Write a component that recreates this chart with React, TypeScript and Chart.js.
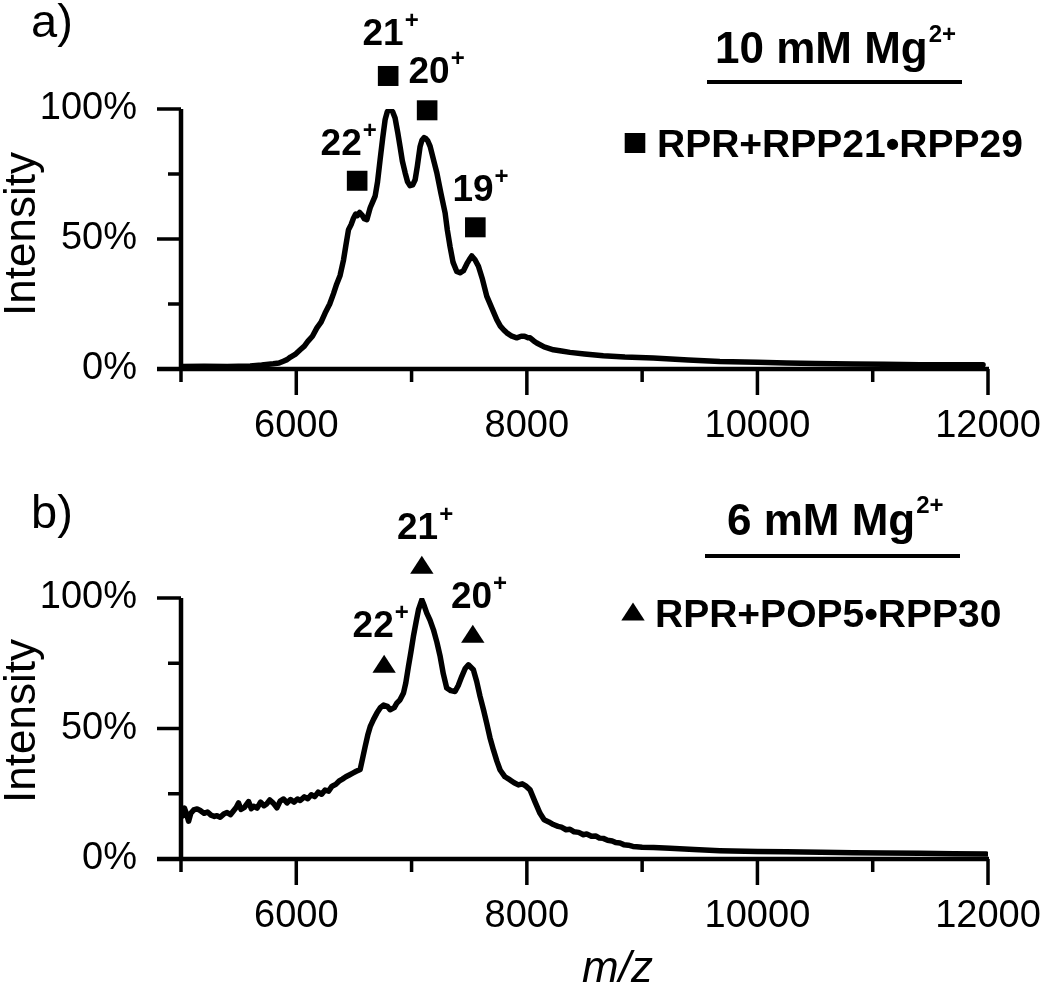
import React, { useEffect, useRef } from 'react';
import { Chart, registerables } from 'chart.js';

Chart.register(...registerables);

const FONT = '"Liberation Sans", Arial, Helvetica, sans-serif';

// ---------- axis ranges / ticks ----------
const X_MIN = 5000;
const X_MAX = 12000;
const X_STEP = 1000;
const X_LABELED = [6000, 8000, 10000, 12000];
const Y_MIN = 0;
const Y_MAX = 100;
const Y_STEP = 25;
const Y_LABELED = [0, 50, 100];

// ---------- panel a: 10 mM Mg2+ ----------
const mzA = [
  5000, 5200, 5400, 5600, 5700, 5800, 5850, 5888, 5920, 5950, 5990, 6034, 6070, 6100, 6140, 6179,
  6215, 6250, 6290, 6323, 6350, 6380, 6410, 6430, 6453, 6475, 6496, 6515, 6530, 6550, 6570, 6590,
  6612, 6641, 6660, 6684, 6705, 6727, 6750, 6771, 6790, 6808, 6820, 6835, 6857, 6880, 6900, 6920,
  6944, 6965, 6987, 7010, 7031, 7050, 7074, 7090, 7109, 7125, 7140, 7161, 7190, 7219, 7255, 7291,
  7310, 7334, 7360, 7392, 7420, 7450, 7480, 7500, 7522, 7550, 7580, 7615, 7652, 7700, 7739, 7770,
  7800, 7826, 7870, 7912, 7950, 7980, 8010, 8028, 8060, 8086, 8150, 8230, 8300, 8374, 8500, 8663,
  8850, 9096, 9400, 9674, 10000, 10252, 10500, 10830, 11100, 11408, 11700, 11957,
];
const intA = [
  1.0, 1.1, 1.0, 1.2, 1.5, 2.0, 2.3, 3.0, 3.6, 4.6, 5.6, 7.4, 8.8, 10.6, 12.6, 15.8,
  18.0, 21.5, 25.0, 29.0, 32.6, 36.0, 42.0, 47.5, 53.6, 55.5, 58.0, 59.6, 59.0, 60.2, 59.2, 57.8,
  57.4, 62.0, 64.0, 66.5, 72.0, 80.5, 89.0, 96.0, 99.0, 100.0, 99.5, 99.0, 96.5, 91.0, 85.6, 80.0,
  75.5, 72.0, 70.5, 70.8, 72.8, 78.0, 85.6, 88.0, 89.0, 88.6, 87.8, 85.6, 80.5, 75.5, 67.5, 60.0,
  53.5, 47.0, 41.0, 37.5, 37.0, 37.8, 40.5, 42.0, 43.5, 42.0, 39.5, 34.5, 28.0, 23.0, 19.0, 16.5,
  15.0, 13.9, 12.6, 12.0, 12.6, 12.6, 12.0, 12.0, 10.8, 10.0, 8.5, 7.4, 6.9, 6.4, 5.8, 5.1,
  4.6, 4.2, 3.5, 2.9, 2.6, 2.3, 2.1, 1.9, 1.8, 1.6, 1.6, 1.6,
];
const peakNamesA = ['22', '21', '20', '19'];
const markerMzA = [6528, 6797, 7135, 7553];
const markerIntA = [72.4, 112.7, 99.5, 54.5];
const labelMzA = [6389, 6753, 7152, 7533];
const labelIntA = [82.4, 124.7, 110, 64.5];

// ---------- panel b: 6 mM Mg2+ ----------
const mzB = [
  5000, 5015, 5030, 5050, 5066, 5085, 5110, 5140, 5167, 5200, 5230, 5260, 5290, 5312, 5340, 5370,
  5400, 5430, 5456, 5480, 5499, 5520, 5550, 5586, 5610, 5630, 5660, 5690, 5720, 5745, 5770, 5800,
  5832, 5860, 5890, 5920, 5950, 5980, 6010, 6034, 6070, 6100, 6130, 6160, 6190, 6220, 6250, 6280,
  6310, 6340, 6370, 6400, 6430, 6460, 6490, 6520, 6554, 6575, 6597, 6620, 6641, 6670, 6699, 6730,
  6757, 6790, 6814, 6850, 6872, 6900, 6930, 6950, 6973, 6995, 7016, 7040, 7060, 7089, 7110, 7132,
  7160, 7190, 7220, 7248, 7275, 7305, 7340, 7377, 7405, 7435, 7465, 7493, 7536, 7565, 7594, 7625,
  7652, 7680, 7710, 7740, 7768, 7810, 7854, 7890, 7926, 7960, 7990, 8028, 8070, 8114, 8150, 8190,
  8230, 8270, 8300, 8340, 8374, 8410, 8450, 8490, 8519, 8560, 8600, 8630, 8663, 8700, 8740, 8770,
  8808, 8840, 8880, 8920, 8952, 9000, 9100, 9241, 9450, 9674, 10000, 10252, 10550, 10830, 11100, 11408,
  11700, 11986,
];
const intB = [
  18.5, 16.5, 19.5, 17.0, 14.5, 17.5, 18.8, 19.2, 18.6, 17.5, 18.0, 16.8, 16.3, 16.6, 16.0, 17.2,
  17.8, 17.0, 18.5, 19.8, 21.5, 19.0, 19.8, 22.0, 19.3, 20.2, 19.5, 21.8, 20.4, 21.2, 22.6, 21.4,
  19.6, 22.2, 23.0, 21.5, 22.8, 21.8, 23.0, 22.4, 23.8, 23.1, 24.6, 23.9, 25.6, 24.8, 26.4, 26.0,
  27.9, 28.5, 29.8, 30.6, 31.5, 32.2, 32.9, 33.6, 34.3, 38.5, 43.0, 47.5, 50.7, 53.5, 55.9, 58.0,
  59.0, 58.5, 57.2, 58.0, 59.7, 61.0, 63.6, 67.5, 73.8, 79.5, 85.3, 91.0, 95.5, 99.3, 97.0, 94.2,
  91.5, 87.8, 83.0, 77.6, 71.0, 65.5, 64.5, 64.2, 66.5, 69.9, 73.0, 74.4, 72.5, 68.0, 62.3, 57.0,
  52.0, 46.5, 41.8, 37.5, 34.1, 31.5, 30.3, 29.2, 28.4, 28.8, 28.0, 26.5, 22.0, 17.5, 15.0, 14.2,
  13.2, 12.5, 12.2, 11.2, 11.4, 10.4, 10.2, 9.3, 9.6, 8.7, 8.8, 8.0, 7.9, 7.2, 6.9, 6.3,
  6.1, 5.5, 5.3, 4.8, 4.7, 4.5, 4.4, 4.1, 3.6, 3.2, 2.9, 2.8, 2.6, 2.4, 2.3, 2.2,
  2.0, 1.9,
];
const peakNamesB = ['22', '21', '20'];
const markerMzB = [6762, 7089, 7531];
const markerIntB = [73.5, 111.4, 85];
const labelMzB = [6667, 7052, 7520];
const labelIntB = [85.2, 122.7, 96.3];

type PanelCfg = {
  top: number;
  height: number;
  padTop: number;
  padBottom: number;
  tag: string;
  tagBaseline: number;
  title: string;
  titleX: number;
  titleBaseline: number;
  supBaseline: number;
  underlineY: number;
  underlineX0: number;
  underlineX1: number;
  legend: string;
  legendX: number;
  legendBaseline: number;
  markerStyle: 'rect' | 'triangle';
  mz: number[];
  inten: number[];
  names: string[];
  markerMz: number[];
  markerInt: number[];
  labelMz: number[];
  labelInt: number[];
  yTitleCenter: number;
  showXTitle: boolean;
};

const panels: PanelCfg[] = [
  {
    top: 0, height: 480, padTop: 109, padBottom: 31,
    tag: 'a)', tagBaseline: 37,
    title: '10 mM Mg', titleX: 715, titleBaseline: 63, supBaseline: 42,
    underlineY: 82, underlineX0: 707, underlineX1: 962,
    legend: 'RPR+RPP21\u2022RPP29', legendX: 657, legendBaseline: 157,
    markerStyle: 'rect',
    mz: mzA, inten: intA, names: peakNamesA,
    markerMz: markerMzA, markerInt: markerIntA, labelMz: labelMzA, labelInt: labelIntA,
    yTitleCenter: 234, showXTitle: false,
  },
  {
    top: 480, height: 505, padTop: 118, padBottom: 46,
    tag: 'b)', tagBaseline: 48,
    title: '6 mM Mg', titleX: 727, titleBaseline: 55, supBaseline: 33,
    underlineY: 76, underlineX0: 705, underlineX1: 960,
    legend: 'RPR+POP5\u2022RPP30', legendX: 655, legendBaseline: 147,
    markerStyle: 'triangle',
    mz: mzB, inten: intB, names: peakNamesB,
    markerMz: markerMzB, markerInt: markerIntB, labelMz: labelMzB, labelInt: labelIntB,
    yTitleCenter: 241, showXTitle: true,
  },
];

function drawMarker(ctx: CanvasRenderingContext2D, style: 'rect' | 'triangle', x: number, y: number) {
  if (style === 'rect') {
    ctx.fillRect(x - 10.3, y - 10, 20.6, 20);
  } else {
    ctx.beginPath();
    ctx.moveTo(x, y - 12.5);
    ctx.lineTo(x + 11.7, y + 5.5);
    ctx.lineTo(x - 11.7, y + 5.5);
    ctx.closePath();
    ctx.fill();
  }
}

function makePlugin(cfg: PanelCfg) {
  return {
    id: 'figureDecor',
    beforeDatasetsDraw(chart: any) {
      const { ctx, chartArea } = chart;
      const xs = chart.scales.x;
      const ys = chart.scales.y;
      const left = chartArea.left;
      const y0 = ys.getPixelForValue(Y_MIN);
      const y1 = ys.getPixelForValue(Y_MAX);
      ctx.save();
      ctx.strokeStyle = '#000';
      ctx.lineCap = 'butt';
      ctx.lineWidth = 4.5;
      ctx.beginPath();
      ctx.moveTo(left, y1);
      ctx.lineTo(left, y0);
      ctx.moveTo(left - 24, y0);
      ctx.lineTo(xs.getPixelForValue(X_MAX) + 1, y0);
      ctx.stroke();
      ctx.lineWidth = 3.5;
      ctx.beginPath();
      for (let v = X_MIN; v <= X_MAX; v += X_STEP) {
        const px = xs.getPixelForValue(v);
        const len = X_LABELED.includes(v) ? 26 : 13;
        ctx.moveTo(px, y0);
        ctx.lineTo(px, y0 + len);
      }
      for (let v = Y_MIN; v <= Y_MAX; v += Y_STEP) {
        const py = ys.getPixelForValue(v);
        const len = Y_LABELED.includes(v) ? 24 : 13;
        ctx.moveTo(left, py);
        ctx.lineTo(left - len, py);
      }
      ctx.stroke();
      ctx.restore();
    },
    afterDraw(chart: any) {
      const { ctx } = chart;
      const xs = chart.scales.x;
      const ys = chart.scales.y;
      ctx.save();
      ctx.fillStyle = '#000';
      ctx.textBaseline = 'alphabetic';

      // peak markers (data coordinates through the scales)
      cfg.markerMz.forEach((mz, i) => {
        drawMarker(ctx, cfg.markerStyle, xs.getPixelForValue(mz), ys.getPixelForValue(cfg.markerInt[i]));
      });

      // panel tag
      ctx.font = `47px ${FONT}`;
      ctx.textAlign = 'left';
      ctx.fillText(cfg.tag, 31, cfg.tagBaseline);

      // y title
      ctx.save();
      ctx.font = `44px ${FONT}`;
      ctx.textAlign = 'center';
      ctx.translate(35, cfg.yTitleCenter);
      ctx.rotate(-Math.PI / 2);
      ctx.fillText('Intensity', 0, 0);
      ctx.restore();

      // title with superscript and underline
      ctx.font = `bold 44px ${FONT}`;
      ctx.textAlign = 'left';
      ctx.fillText(cfg.title, cfg.titleX, cfg.titleBaseline);
      const tw = ctx.measureText(cfg.title).width;
      ctx.font = `bold 24px ${FONT}`;
      ctx.fillText('2+', cfg.titleX + tw + 1, cfg.supBaseline);
      ctx.fillRect(cfg.underlineX0, cfg.underlineY - 2, cfg.underlineX1 - cfg.underlineX0, 4);

      // legend
      const lcx = cfg.legendX - 22;
      const lcy = cfg.legendBaseline - 14;
      drawMarker(ctx, cfg.markerStyle, lcx, lcy + (cfg.markerStyle === 'rect' ? 0 : 2));
      ctx.font = `bold 39px ${FONT}`;
      ctx.fillText(cfg.legend, cfg.legendX, cfg.legendBaseline);

      // peak charge-state labels
      cfg.names.forEach((name, i) => {
        const px = xs.getPixelForValue(cfg.labelMz[i]);
        const py = ys.getPixelForValue(cfg.labelInt[i]);
        ctx.font = `bold 37px ${FONT}`;
        ctx.textAlign = 'center';
        ctx.fillText(name, px, py);
        const w = ctx.measureText(name).width;
        ctx.font = `bold 24px ${FONT}`;
        ctx.textAlign = 'left';
        ctx.fillText('+', px + w / 2 + 1, py - 17);
      });

      if (cfg.showXTitle) {
        ctx.font = `italic 44px ${FONT}`;
        ctx.textAlign = 'left';
        ctx.fillText('m/z', 582, 502);
      }
      ctx.restore();
    },
  };
}

function buildConfig(cfg: PanelCfg): any {
  const tickFont = { family: FONT, size: 38 };
  return {
    type: 'line',
    data: {
      datasets: [
        {
          data: cfg.mz.map((x, i) => ({ x, y: cfg.inten[i] })),
          borderColor: '#000',
          borderWidth: 5.5,
          pointRadius: 0,
          tension: 0,
          borderJoinStyle: 'round',
          borderCapStyle: 'round',
          fill: false,
        },
      ],
    },
    options: {
      responsive: false,
      animation: false,
      devicePixelRatio: 1,
      events: [],
      layout: { padding: { left: 0, right: 62, top: cfg.padTop, bottom: cfg.padBottom } },
      plugins: { legend: { display: false }, tooltip: { enabled: false } },
      scales: {
        x: {
          type: 'linear',
          min: X_MIN,
          max: X_MAX,
          border: { display: false },
          grid: { display: true, drawOnChartArea: false, drawTicks: true, tickLength: 26, color: 'rgba(0,0,0,0)' },
          ticks: {
            stepSize: X_STEP,
            autoSkip: false,
            maxRotation: 0,
            padding: 9,
            color: '#000',
            font: tickFont,
            callback: (v: number) => (X_LABELED.includes(v) ? String(v) : ''),
          },
          afterFit: (s: any) => { s.height = 80; },
        },
        y: {
          type: 'linear',
          min: Y_MIN,
          max: Y_MAX,
          border: { display: false },
          grid: { display: true, drawOnChartArea: false, drawTicks: true, tickLength: 24, color: 'rgba(0,0,0,0)' },
          ticks: {
            stepSize: Y_STEP,
            autoSkip: false,
            padding: 20,
            color: '#000',
            font: tickFont,
            callback: (v: number) => (Y_LABELED.includes(v) ? `${v}%` : ''),
          },
          afterFit: (s: any) => { s.width = 181; },
        },
      },
    },
    plugins: [makePlugin(cfg)],
  };
}

function Panel({ cfg }: { cfg: PanelCfg }) {
  const ref = useRef<HTMLCanvasElement>(null);
  useEffect(() => {
    const chart = new Chart(ref.current as HTMLCanvasElement, buildConfig(cfg));
    return () => chart.destroy();
  }, [cfg]);
  return (
    <canvas
      ref={ref}
      width={1050}
      height={cfg.height}
      style={{ position: 'absolute', left: 0, top: cfg.top, width: 1050, height: cfg.height }}
    />
  );
}

export default function App() {
  return (
    <div style={{ position: 'absolute', left: 0, top: 0, width: 1050, height: 985, background: '#fff' }}>
      {panels.map((p, i) => (
        <Panel key={i} cfg={p} />
      ))}
    </div>
  );
}
